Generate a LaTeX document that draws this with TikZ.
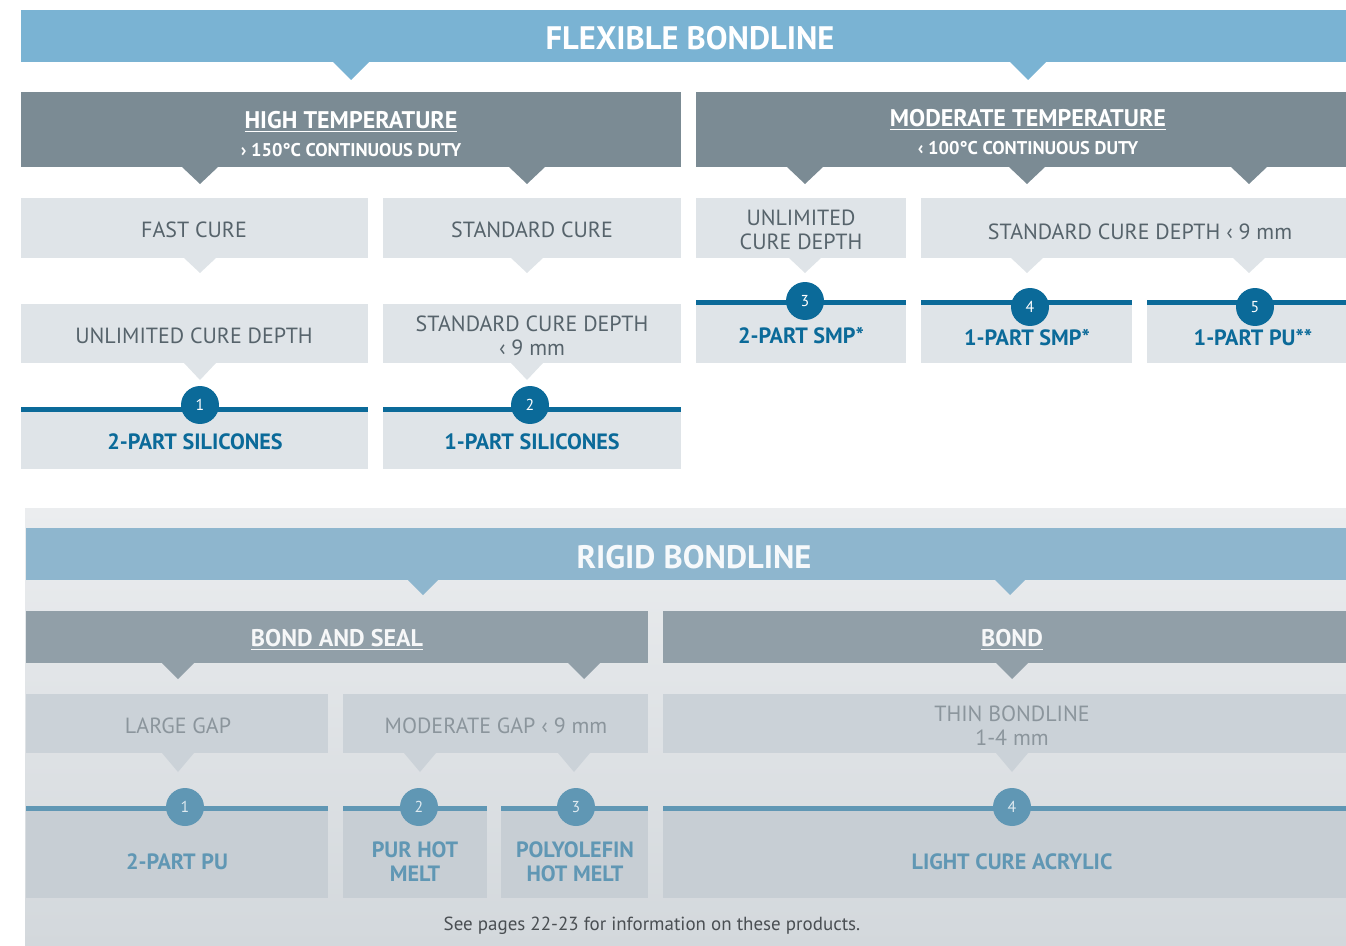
\documentclass[tikz,border=0pt]{standalone}
\usepackage{fontspec}
\setmainfont{PT Sans}
\usepackage{tikz}

\definecolor{flexblue}{HTML}{7AB3D3}
\definecolor{headgrey}{HTML}{7B8B94}
\definecolor{boxgrey}{HTML}{DFE4E8}
\definecolor{cattext}{HTML}{56636B}
\definecolor{prodblue}{HTML}{0B6A99}
\definecolor{bgtop}{HTML}{EBEDEF}
\definecolor{bgbot}{HTML}{D3D8DC}
\definecolor{rigidblue}{HTML}{8EB6CE}
\definecolor{rheadgrey}{HTML}{919FA8}
\definecolor{rboxgrey}{HTML}{CBD2D8}
\definecolor{rprodgrey}{HTML}{C7CED4}
\definecolor{rcattext}{HTML}{8B959C}
\definecolor{rprodblue}{HTML}{6097B4}
\definecolor{foottext}{HTML}{4A4F53}

\tikzset{
  bannertext/.style={font=\fontsize{18.5}{20}\selectfont\bfseries, text=white},
  headtext/.style={font=\fontsize{13.7}{15}\selectfont\bfseries, text=white},
  subtext/.style={font=\fontsize{10.5}{12}\selectfont\bfseries, text=white},
  cattext/.style={font=\fontsize{12.5}{13.6}\selectfont, text=cattext, align=center},
  prodtext/.style={font=\fontsize{12.6}{13.6}\selectfont\bfseries, text=prodblue, align=center},
  numdot/.style={circle, fill=prodblue, text=white, minimum size=0.76cm, inner sep=0pt, font=\fontsize{9}{10}\selectfont},
}

\begin{document}
\begin{tikzpicture}[x=0.02cm, y=-0.02cm]
\useasboundingbox (0,0) rectangle (1346,946);

% flexible bondline
\fill[flexblue] (21,10) rectangle (1346,62);
\fill[flexblue] (333,62) -- (369,62) -- (351,80) -- cycle;
\fill[flexblue] (1010,62) -- (1046,62) -- (1028,80) -- cycle;
\node[bannertext] (flex) at (690,38) {FLEXIBLE BONDLINE};

% temperature headers
\fill[headgrey] (21,92) rectangle (681,167);
\fill[headgrey] (696,92) rectangle (1346,167);
\fill[headgrey] (182,167) -- (218,167) -- (200,184) -- cycle;
\fill[headgrey] (509,167) -- (545,167) -- (527,184) -- cycle;
\fill[headgrey] (787,167) -- (823,167) -- (805,184) -- cycle;
\fill[headgrey] (1009,167) -- (1045,167) -- (1027,184) -- cycle;
\fill[headgrey] (1231,167) -- (1267,167) -- (1249,184) -- cycle;
\node[headtext] (hightemp) at (351,122) {\underline{HIGH TEMPERATURE}};
\node[subtext] (highduty) at (351,150) {› 150°C CONTINUOUS DUTY};
\node[headtext] (modtemp) at (1028,120) {\underline{MODERATE TEMPERATURE}};
\node[subtext] (modduty) at (1028,148) {‹ 100°C CONTINUOUS DUTY};

% cure rows
\fill[boxgrey] (21,198) rectangle (368,258);
\fill[boxgrey] (383,198) rectangle (681,258);
\fill[boxgrey] (696,198) rectangle (906,258);
\fill[boxgrey] (921,198) rectangle (1346,258);
\fill[boxgrey] (184,258) -- (216,258) -- (200,273) -- cycle;
\fill[boxgrey] (511,258) -- (543,258) -- (527,273) -- cycle;
\fill[boxgrey] (789,258) -- (821,258) -- (805,273) -- cycle;
\fill[boxgrey] (1011,258) -- (1043,258) -- (1027,273) -- cycle;
\fill[boxgrey] (1233,258) -- (1265,258) -- (1249,273) -- cycle;
\node[cattext] (fastcure) at (194,230) {FAST CURE};
\node[cattext] (stdcure) at (532,230) {STANDARD CURE};
\node[cattext] (unlimr) at (801,230) {UNLIMITED\\CURE DEPTH};
\node[cattext] (stddepthr) at (1140,232) {STANDARD CURE DEPTH ‹ 9 mm};

\fill[boxgrey] (21,304) rectangle (368,363);
\fill[boxgrey] (383,304) rectangle (681,363);
\fill[boxgrey] (184,363) -- (216,363) -- (200,380) -- cycle;
\fill[boxgrey] (511,363) -- (543,363) -- (527,380) -- cycle;
\node[cattext] (unliml) at (194,336) {UNLIMITED CURE DEPTH};
\node[cattext] (stddepthl) at (532,336) {STANDARD CURE DEPTH\\‹ 9 mm};

% flexible products
\fill[boxgrey] (21,409) rectangle (368,469);
\fill[boxgrey] (383,409) rectangle (681,469);
\fill[boxgrey] (696,302) rectangle (906,363);
\fill[boxgrey] (921,302) rectangle (1132,363);
\fill[boxgrey] (1147,302) rectangle (1346,363);
\fill[prodblue] (21,407) rectangle (368,412);
\fill[prodblue] (383,407) rectangle (681,412);
\fill[prodblue] (696,300) rectangle (906,305);
\fill[prodblue] (921,300) rectangle (1132,305);
\fill[prodblue] (1147,300) rectangle (1346,305);
\node[numdot] (n1) at (200,405) {1};
\node[numdot] (n2) at (530,405) {2};
\node[numdot] (n3) at (805,301) {3};
\node[numdot] (n4) at (1030,307) {4};
\node[numdot] (n5) at (1255,307) {5};
\node[prodtext] (silic2) at (195,442) {2-PART SILICONES};
\node[prodtext] (silic1) at (532,442) {1-PART SILICONES};
\node[prodtext] (smp2) at (801,336) {2-PART SMP*};
\node[prodtext] (smp1) at (1027,338) {1-PART SMP*};
\node[prodtext] (pu1) at (1253,338) {1-PART PU**};

% rigid bondline
\shade[top color=bgtop, bottom color=bgbot] (25,508) rectangle (1346,946);
\fill[rigidblue] (26,528) rectangle (1346,580);
\fill[rigidblue] (408,580) -- (438,580) -- (423,595) -- cycle;
\fill[rigidblue] (995,580) -- (1025,580) -- (1010,595) -- cycle;
\node[bannertext, text=white!92!rigidblue] (rigid) at (694,557) {RIGID BONDLINE};

\fill[rheadgrey] (26,611) rectangle (648,663);
\fill[rheadgrey] (663,611) rectangle (1346,663);
\fill[rheadgrey] (162,663) -- (194,663) -- (178,679) -- cycle;
\fill[rheadgrey] (568,663) -- (600,663) -- (584,679) -- cycle;
\fill[rheadgrey] (996,663) -- (1028,663) -- (1012,679) -- cycle;
\node[headtext, text=white!92!rheadgrey] (bondseal) at (337,640) {\underline{BOND AND SEAL}};
\node[headtext, text=white!92!rheadgrey] (bond) at (1012,640) {\underline{BOND}};

\fill[rboxgrey] (26,694) rectangle (328,753);
\fill[rboxgrey] (343,694) rectangle (648,753);
\fill[rboxgrey] (663,694) rectangle (1346,753);
\fill[rboxgrey] (162,753) -- (194,753) -- (178,772) -- cycle;
\fill[rboxgrey] (404,753) -- (436,753) -- (420,772) -- cycle;
\fill[rboxgrey] (558,753) -- (590,753) -- (574,772) -- cycle;
\fill[rboxgrey] (996,753) -- (1028,753) -- (1012,772) -- cycle;
\node[cattext, text=rcattext] (largegap) at (178,726) {LARGE GAP};
\node[cattext, text=rcattext] (modgap) at (496,726) {MODERATE GAP ‹ 9 mm};
\node[cattext, text=rcattext] (thinbond) at (1012,726) {THIN BONDLINE\\1-4 mm};

% rigid products
\fill[rprodgrey] (26,808) rectangle (328,898);
\fill[rprodgrey] (343,808) rectangle (487,898);
\fill[rprodgrey] (501,808) rectangle (648,898);
\fill[rprodgrey] (663,808) rectangle (1346,898);
\fill[rprodblue] (26,806) rectangle (328,811);
\fill[rprodblue] (343,806) rectangle (487,811);
\fill[rprodblue] (501,806) rectangle (648,811);
\fill[rprodblue] (663,806) rectangle (1346,811);
\node[numdot, fill=rprodblue, text=white!80!rprodblue] (r1) at (185,807) {1};
\node[numdot, fill=rprodblue, text=white!80!rprodblue] (r2) at (419,807) {2};
\node[numdot, fill=rprodblue, text=white!80!rprodblue] (r3) at (576,807) {3};
\node[numdot, fill=rprodblue, text=white!80!rprodblue] (r4) at (1012,807) {4};
\node[prodtext, text=rprodblue] (pu2) at (177,862) {2-PART PU};
\node[prodtext, text=rprodblue] (purhot) at (415,862) {PUR HOT\\MELT};
\node[prodtext, text=rprodblue] (polyhot) at (575,862) {POLYOLEFIN\\HOT MELT};
\node[prodtext, text=rprodblue] (lightcure) at (1012,862) {LIGHT CURE ACRYLIC};

\node[font=\fontsize{10.8}{12}\selectfont, text=foottext] (footnote) at (652,926) {See pages 22-23 for information on these products.};
\end{tikzpicture}
\end{document}
